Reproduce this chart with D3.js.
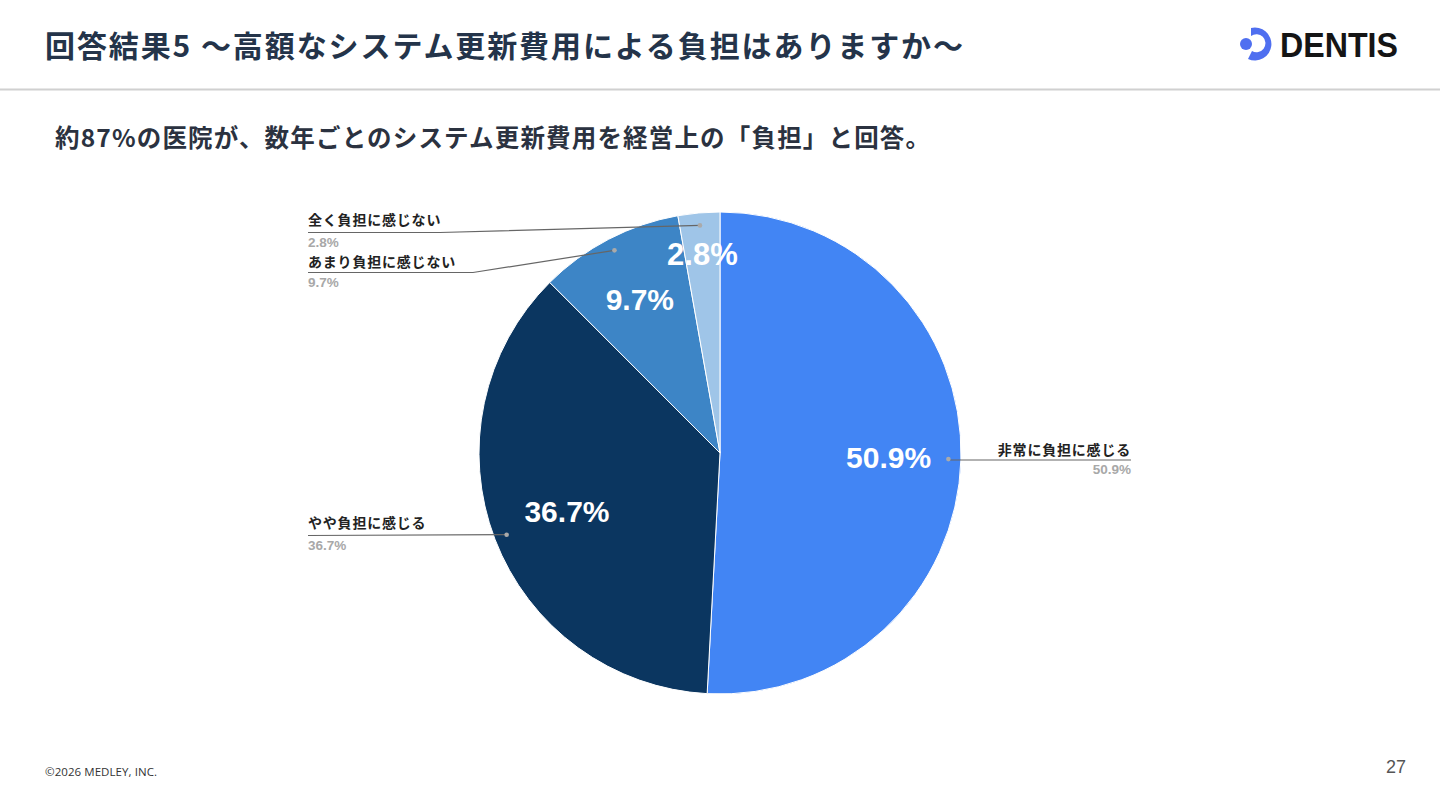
<!DOCTYPE html>
<html><head><meta charset="utf-8">
<script src="https://cdn.jsdelivr.net/npm/d3@7"></script>
<style>
html,body{margin:0;padding:0;background:#fff;}
svg{display:block;}
</style></head>
<body>
<svg id="c" width="1440" height="810"></svg>
<script>
const categories = ["非常に負担に感じる","やや負担に感じる","あまり負担に感じない","全く負担に感じない"];
const values = [50.9, 36.7, 9.7, 2.8];
const valueLabels = ["50.9%","36.7%","9.7%","2.8%"];
const colors = ["#4285f4","#0b3660","#3d85c6","#9fc5e8"];
const titleText = "回答結果5 〜高額なシステム更新費用による負担はありますか〜";
const subtitleText = "約87%の医院が、数年ごとのシステム更新費用を経営上の「負担」と回答。";

const svg = d3.select("#c");
const jp = "'Noto Sans CJK JP','Noto Sans',sans-serif";

// header
svg.append("text").attr("x",45).attr("y",57).attr("font-family",jp).attr("font-weight",700)
  .attr("font-size",30).attr("textLength",918).attr("lengthAdjust","spacing")
  .attr("fill","#24344a").text(titleText);
svg.append("line").attr("x1",0).attr("x2",1440).attr("y1",89.5).attr("y2",89.5)
  .attr("stroke","#d0d0d0").attr("stroke-width",2);
// logo
const lg = svg.append("g");
lg.append("circle").attr("cx",1246).attr("cy",44).attr("r",6).attr("fill","#4f6ff0");
lg.append("path").attr("d","M1251,28 A16.5,16.5 0 1 1 1248,59 L1252,51 A9,9 0 1 0 1251,36 Z").attr("fill","#4f6ff0");
lg.append("text").attr("x",1280).attr("y",57).attr("font-family","'Liberation Sans',Arial,sans-serif")
  .attr("font-weight",700).attr("font-size",35).attr("textLength",118).attr("lengthAdjust","spacingAndGlyphs")
  .attr("fill","#151515").text("DENTIS");

svg.append("text").attr("x",55).attr("y",147).attr("font-family",jp).attr("font-weight",700)
  .attr("font-size",24.5).attr("textLength",875).attr("lengthAdjust","spacing")
  .attr("fill","#2b3240").text(subtitleText);

// footer
svg.append("text").attr("x",45).attr("y",776).attr("font-family","'Open Sans','Noto Sans',sans-serif")
  .attr("font-size",11.5).attr("textLength",112).attr("fill","#333").text("©2026 MEDLEY, INC.");
svg.append("text").attr("x",1406).attr("y",773).attr("text-anchor","end").attr("font-family","'Liberation Sans',Arial,sans-serif")
  .attr("font-size",18).attr("fill","#555").text("27");

// pie
const cx = 720, cy = 453, R = 241;
const g = svg.append("g").attr("transform",`translate(${cx},${cy})`);
const pie = d3.pie().sort(null).value(d=>d)(values);
const arc = d3.arc().innerRadius(0).outerRadius(R);
g.selectAll("path.s").data(pie).join("path").attr("class","s")
  .attr("d",arc).attr("fill",(d,i)=>colors[i]).attr("stroke","#fff").attr("stroke-width",1);

const labelR = [0.70,0.68,0.72,0.83];
const labelSize = [30,30,30,31];
g.selectAll("text.in").data(pie).join("text").attr("class","in")
  .attr("transform",(d,i)=>{const a=(d.startAngle+d.endAngle)/2; const r=R*labelR[i];
    return `translate(${Math.sin(a)*r},${-Math.cos(a)*r})`;})
  .attr("text-anchor","middle").attr("dy","0.36em")
  .attr("font-family","'Liberation Sans',Arial,sans-serif").attr("font-weight",700)
  .attr("font-size",(d,i)=>labelSize[i]).attr("fill","#fff").text((d,i)=>valueLabels[i]);

// callouts
const dotR = R*0.948;
function dotPos(d){const a=(d.startAngle+d.endAngle)/2; return [cx+Math.sin(a)*dotR, cy-Math.cos(a)*dotR];}
const layout = [
  {side:"right", x:1131, ty:455, ly:460, bend:null},
  {side:"left", x:308, ty:528, ly:535.5, bend:null},
  {side:"left", x:308, ty:267, ly:272.5, bend:473},
  {side:"left", x:308, ty:225, ly:232.5, bend:440}
];
pie.forEach((d,i)=>{
  const L = layout[i]; const [px,py] = dotPos(d);
  let pts;
  if(L.side==="right"){ pts=[[px,L.ly],[L.x,L.ly]]; }
  else if(L.bend){ pts=[[L.x,L.ly],[L.bend,L.ly],[px,py]]; }
  else { pts=[[L.x,L.ly],[px,py]]; }
  svg.append("path").attr("d",d3.line()(pts)).attr("fill","none").attr("stroke","#666").attr("stroke-width",1.2);
  svg.append("circle").attr("cx",px).attr("cy",py).attr("r",2.3).attr("fill","#aaa");
  const anchor = L.side==="right"?"end":"start";
  svg.append("text").attr("x",L.x).attr("y",L.ty).attr("text-anchor",anchor)
    .attr("font-family",jp).attr("font-weight",700).attr("font-size",14).attr("letter-spacing",0.8)
    .attr("fill","#222").text(categories[i]);
  svg.append("text").attr("x",L.x).attr("y",L.ly+14).attr("text-anchor",anchor)
    .attr("font-family","'Liberation Sans',Arial,sans-serif").attr("font-weight",700).attr("font-size",13.5).attr("fill","#a8a8a8").text(valueLabels[i]);
});
</script>
</body></html>
